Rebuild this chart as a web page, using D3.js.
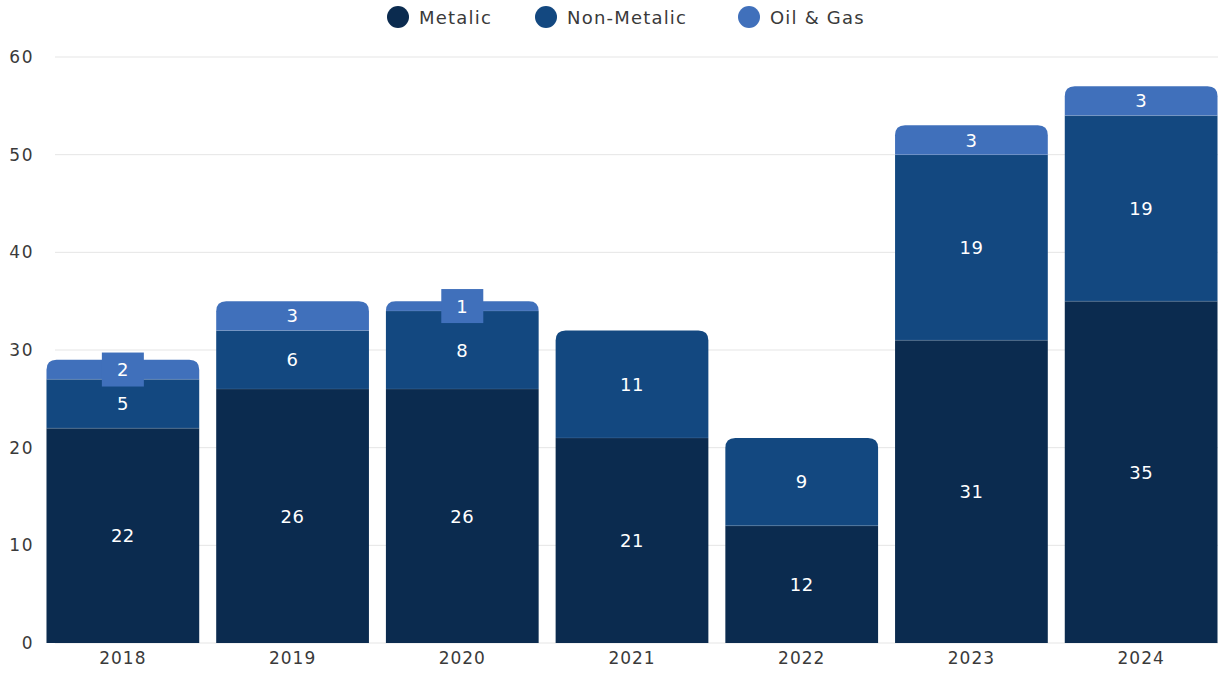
<!DOCTYPE html>
<html>
<head>
<meta charset="utf-8">
<script src="https://cdn.jsdelivr.net/npm/d3@7"></script>
<style>
  html, body { margin: 0; padding: 0; background: #fff; }
  svg { display: block; font-family: "DejaVu Sans", "Noto Sans", sans-serif; }
</style>
</head>
<body>
<svg id="chart" width="1218" height="675"></svg>
<script>
// Stacked yearly counts by category
const years = ["2018", "2019", "2020", "2021", "2022", "2023", "2024"];
const metalic = [22, 26, 26, 21, 12, 31, 35];
const nonMetalic = [5, 6, 8, 11, 9, 19, 19];
const oilGas = [2, 3, 1, 0, 0, 3, 3];
const seriesNames = ["Metalic", "Non-Metalic", "Oil & Gas"];
const seriesColors = ["#0b2b4f", "#134880", "#4070bb"];
const yTicks = [0, 10, 20, 30, 40, 50, 60];

const rows = years.map((y, i) => ({
  year: y,
  "Metalic": metalic[i],
  "Non-Metalic": nonMetalic[i],
  "Oil & Gas": oilGas[i]
}));

const svg = d3.select("#chart");
const W = 1218, H = 675;
const FONT = "'DejaVu Sans', sans-serif";

const x = d3.scaleBand().domain(years).range([38, 1226])
  .paddingInner(0.1).paddingOuter(0.05);
const y = d3.scaleLinear().domain([0, 60]).range([643, 57]);

// gridlines
svg.append("g").selectAll("line").data(yTicks).join("line")
  .attr("x1", 55).attr("x2", W)
  .attr("y1", d => y(d)).attr("y2", d => y(d))
  .attr("stroke", "#e5e5e5").attr("stroke-width", 1);

// y axis labels
const yAxis = d3.axisLeft(y).tickValues(yTicks).tickSize(0).tickPadding(0);
const gy = svg.append("g").attr("transform", "translate(34,0)").call(yAxis);
gy.select(".domain").remove();
gy.selectAll("text").attr("font-size", 17).attr("fill", "#3a3a3a")
  .attr("letter-spacing", 1.5)
  .style("font-family", FONT);

// x axis labels
const xAxis = d3.axisBottom(x).tickSize(0).tickPadding(0);
const gx = svg.append("g").attr("transform", "translate(0,652)").call(xAxis);
gx.select(".domain").remove();
gx.selectAll("text").attr("font-size", 17).attr("fill", "#3a3a3a")
  .attr("letter-spacing", 1)
  .style("font-family", FONT);

const stack = d3.stack().keys(seriesNames);
const stacked = stack(rows);
const color = d3.scaleOrdinal().domain(seriesNames).range(seriesColors);

// Path for a rectangle with optionally rounded top corners
function segPath(x0, y0, w, h, r) {
  if (r <= 0) return `M${x0},${y0}h${w}v${h}h${-w}Z`;
  r = Math.min(r, h, w / 2);
  return `M${x0},${y0 + h}V${y0 + r}Q${x0},${y0} ${x0 + r},${y0}H${x0 + w - r}Q${x0 + w},${y0} ${x0 + w},${y0 + r}V${y0 + h}Z`;
}

const bw = x.bandwidth();
const barsG = svg.append("g");
stacked.forEach((layer, li) => {
  layer.forEach((d, i) => {
    const v = d[1] - d[0];
    if (v <= 0) return;
    // topmost non-zero segment gets rounded corners
    const isTop = stacked.slice(li + 1).every(l => l[i][1] - l[i][0] <= 0);
    const x0 = x(years[i]);
    const yTop = y(d[1]), yBot = y(d[0]);
    barsG.append("path")
      .attr("d", segPath(x0, yTop, bw, yBot - yTop, isTop ? 10 : 0))
      .attr("fill", color(layer.key));
    if (li > 0) {
      barsG.append("line")
        .attr("x1", x0).attr("x2", x0 + bw)
        .attr("y1", yBot).attr("y2", yBot)
        .attr("stroke", "rgba(255,255,255,0.12)").attr("stroke-width", 1);
    }
  });
});

// value labels
const labelsG = svg.append("g");
stacked.forEach((layer, li) => {
  layer.forEach((d, i) => {
    const v = d[1] - d[0];
    if (v <= 0) return;
    const cx = x(years[i]) + bw / 2;
    const cy = (y(d[0]) + y(d[1])) / 2;
    const segH = y(d[0]) - y(d[1]);
    if (segH < 24) {
      labelsG.append("rect")
        .attr("x", cx - 21).attr("y", cy - 17)
        .attr("width", 42).attr("height", 34)
        .attr("fill", color(layer.key));
    }
    labelsG.append("text")
      .attr("x", cx).attr("y", cy)
      .attr("text-anchor", "middle").attr("dominant-baseline", "central")
      .attr("font-size", 18).attr("fill", "#fff")
      .attr("letter-spacing", 0.5)
      .text(v);
  });
});

// legend
const legendX = [398, 546, 749];
const lg = svg.append("g");
seriesNames.forEach((name, i) => {
  lg.append("circle").attr("cx", legendX[i]).attr("cy", 17).attr("r", 11)
    .attr("fill", seriesColors[i]);
  lg.append("text").attr("x", legendX[i] + 21).attr("y", 17)
    .attr("dominant-baseline", "central")
    .attr("font-size", 18).attr("fill", "#3a3a3a")
    .attr("letter-spacing", 1.2)
    .text(name);
});
</script>
</body>
</html>
